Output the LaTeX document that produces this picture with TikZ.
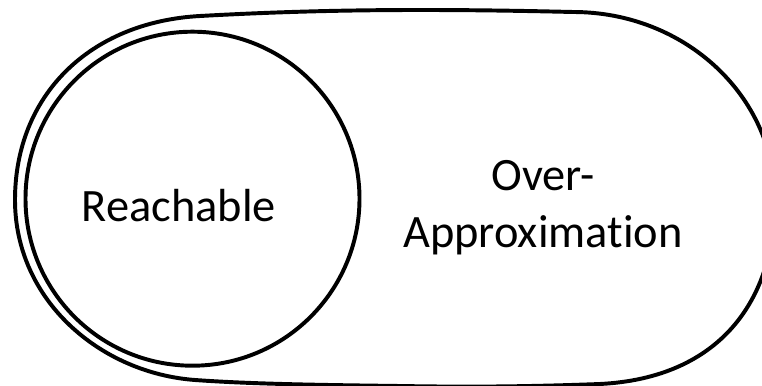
\documentclass[tikz,border=0pt]{standalone}
\usepackage{fontspec}
\setmainfont[Ligatures=NoCommon]{Carlito}
\begin{document}
\begin{tikzpicture}[x=0.025cm,y=-0.025cm,
    border/.style={line width=2.8pt},
    lbl/.style={font=\fontsize{33}{40.5}\selectfont,inner sep=0pt}]
  \clip (0,0) rectangle (762,386);
  % outer loop, drawn free hand
  \draw[border] (15,200) .. controls (15,95) and (90,22) .. (200,16)
     .. controls (260,12.7) and (330,10) .. (420,10)
     .. controls (480,10) and (530,11) .. (573,12)
     .. controls (685,12) and (775,96) .. (775,200)
     .. controls (775,300) and (720,378) .. (600,384)
     .. controls (520,387) and (460,387) .. (400,386)
     .. controls (320,385) and (250,384) .. (195,380)
     .. controls (100,373) and (15,300) .. (15,200) -- cycle;
  % inner circle
  \draw[border] (192.5,198.7) circle (167);
  \node[lbl,anchor=base] (reach) at (179,222) {Reachable};
  \node[lbl,anchor=base,align=center] (over) at (543,247) {Over-\\Approximation};
\end{tikzpicture}
\end{document}
